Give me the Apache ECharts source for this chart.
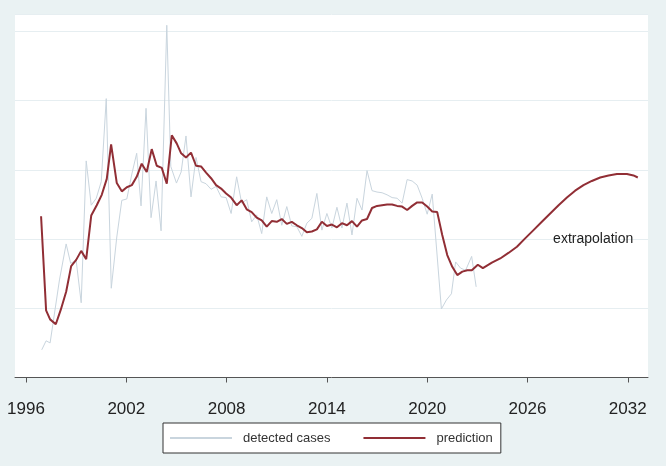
<!DOCTYPE html>
<html>
<head>
<meta charset="utf-8">
<script src="https://cdn.jsdelivr.net/npm/echarts@6/dist/echarts.min.js"></script>
<style>
  html, body { margin: 0; padding: 0; background: #eaf2f3; }
  #chart { width: 666px; height: 466px; }
</style>
</head>
<body>
<div id="chart"></div>
<script>
// values (y in grid-line units)
var detYears = [1996.94, 1997.2, 1997.44, 1997.6, 1998.0, 1998.4, 1998.67, 1999.0, 1999.3, 1999.6,
  1999.9, 2000.2, 2000.5, 2000.8, 2001.1, 2001.43, 2001.73, 2002.03, 2002.33, 2002.62,
  2002.88, 2003.18, 2003.48, 2003.78, 2004.08, 2004.42, 2004.66, 2005.0, 2005.28, 2005.57,
  2005.87, 2006.17, 2006.47, 2006.77, 2007.07, 2007.37, 2007.67, 2007.97, 2008.27, 2008.6,
  2008.9, 2009.2, 2009.5, 2009.8, 2010.1, 2010.4, 2010.7, 2011.0, 2011.3, 2011.6,
  2011.9, 2012.2, 2012.5, 2012.8, 2013.1, 2013.4, 2013.7, 2014.0, 2014.3, 2014.6,
  2014.9, 2015.2, 2015.5, 2015.8, 2016.1, 2016.4, 2016.7, 2017.0, 2017.3, 2017.6,
  2017.9, 2018.2, 2018.5, 2018.8, 2019.1, 2019.4, 2019.7, 2020.0, 2020.3, 2020.85,
  2021.15, 2021.45, 2021.7, 2022.0, 2022.3, 2022.66, 2022.93];
var detValues = [0.40, 0.53, 0.50, 0.76, 1.41, 1.93, 1.65, 1.69, 1.08, 3.13,
  2.49, 2.59, 2.83, 4.03, 1.29, 2.03, 2.56, 2.58, 2.94, 3.24,
  2.48, 3.89, 2.31, 2.84, 2.12, 5.09, 3.05, 2.81, 2.97, 3.49,
  2.61, 3.18, 2.83, 2.80, 2.72, 2.76, 2.61, 2.60, 2.37, 2.90,
  2.52, 2.57, 2.25, 2.35, 2.08, 2.61, 2.37, 2.57, 2.20, 2.47,
  2.19, 2.18, 2.04, 2.23, 2.30, 2.66, 2.13, 2.37, 2.16, 2.46,
  2.16, 2.52, 2.06, 2.59, 2.42, 2.99, 2.70, 2.68, 2.67, 2.64,
  2.60, 2.59, 2.52, 2.86, 2.84, 2.78, 2.59, 2.36, 2.65, 0.99,
  1.12, 1.21, 1.67, 1.58, 1.55, 1.75, 1.31];

var predYears = [1996.9, 1997.2, 1997.44, 1997.78, 1998.08, 1998.4, 1998.7, 1999.0, 1999.3, 1999.6,
  1999.9, 2000.23, 2000.53, 2000.83, 2001.09, 2001.43, 2001.73, 2002.03, 2002.33, 2002.62,
  2002.92, 2003.22, 2003.52, 2003.82, 2004.12, 2004.42, 2004.72, 2005.02, 2005.28, 2005.57,
  2005.87, 2006.17, 2006.47, 2006.77, 2007.07, 2007.37, 2007.67, 2007.97, 2008.27, 2008.6,
  2008.9, 2009.2, 2009.5, 2009.8, 2010.1, 2010.4, 2010.7, 2011.0, 2011.3, 2011.6,
  2011.9, 2012.2, 2012.5, 2012.8, 2013.1, 2013.4, 2013.7, 2014.0, 2014.3, 2014.6,
  2014.9, 2015.2, 2015.5, 2015.8, 2016.1, 2016.4, 2016.7, 2017.0, 2017.3, 2017.6,
  2017.9, 2018.2, 2018.5, 2018.8, 2019.1, 2019.4, 2019.7, 2020.0, 2020.3, 2020.6,
  2020.9, 2021.2, 2021.5, 2021.8, 2022.1, 2022.4, 2022.67, 2023.03, 2023.33, 2023.87,
  2024.37, 2024.86, 2025.37, 2025.86, 2026.36, 2026.86, 2027.36, 2027.86, 2028.36, 2028.85,
  2029.35, 2029.85, 2030.35, 2030.85, 2031.35, 2031.95, 2032.34, 2032.6];
var predValues = [2.33, 0.97, 0.84, 0.77, 0.98, 1.24, 1.61, 1.70, 1.83, 1.71,
  2.34, 2.49, 2.64, 2.87, 3.37, 2.81, 2.69, 2.75, 2.78, 2.90,
  3.09, 2.97, 3.30, 3.06, 3.03, 2.80, 3.50, 3.38, 3.24, 3.18,
  3.25, 3.06, 3.05, 2.96, 2.88, 2.78, 2.73, 2.66, 2.60, 2.49,
  2.56, 2.43, 2.39, 2.31, 2.27, 2.18, 2.26, 2.25, 2.29, 2.22,
  2.25, 2.20, 2.16, 2.10, 2.11, 2.14, 2.25, 2.19, 2.21, 2.17,
  2.23, 2.20, 2.26, 2.18, 2.27, 2.29, 2.45, 2.48, 2.49, 2.50,
  2.50, 2.48, 2.47, 2.42, 2.48, 2.53, 2.53, 2.47, 2.40, 2.39,
  2.06, 1.77, 1.60, 1.48, 1.53, 1.55, 1.55, 1.63, 1.58, 1.66,
  1.72, 1.80, 1.89, 2.01, 2.13, 2.25, 2.37, 2.49, 2.60, 2.70,
  2.78, 2.84, 2.89, 2.92, 2.94, 2.94, 2.92, 2.89];

var yearTicks = [1996, 2002, 2008, 2014, 2020, 2026, 2032];
var noteText = 'extrapolation';
var notePos = [2029.93, 2.0];

function pairs(xs, ys) {
  return xs.map(function (x, i) { return [x, ys[i]]; });
}

var font = 'Liberation Sans, Arial, sans-serif';
var myChart = echarts.init(document.getElementById('chart'));
var option = {
  backgroundColor: '#eaf2f3',
  animation: false,
  grid: {
    left: 15, right: 18, top: 14, bottom: 88.5,
    show: true, backgroundColor: '#ffffff', borderWidth: 0
  },
  legend: {
    data: ['detected cases', 'prediction'],
    left: 163, top: 423,
    padding: [8, 8, 8, 7],
    icon: 'rect',
    itemWidth: 62, itemHeight: 2, itemGap: 33,
    backgroundColor: '#ffffff',
    borderColor: '#333333', borderWidth: 1,
    textStyle: { fontFamily: font, fontSize: 13, color: '#333', padding: [0, 0, 0, 6], lineHeight: 14 }
  },
  xAxis: {
    type: 'value',
    min: 1995.34, max: 2033.21,
    offset: 12,
    axisLine: { lineStyle: { color: '#555', width: 1 } },
    axisTick: { show: true, customValues: yearTicks, length: 5, lineStyle: { color: '#555' } },
    axisLabel: {
      customValues: yearTicks,
      formatter: function (v) { return String(v); },
      fontFamily: font, fontSize: 17, color: '#222', margin: 11
    },
    splitLine: { show: false }
  },
  yAxis: {
    type: 'value',
    min: 0, max: 5.253, interval: 1,
    axisLine: { show: false },
    axisTick: { show: false },
    axisLabel: { show: false },
    splitLine: { lineStyle: { color: '#e6eef1', width: 1 } }
  },
  series: [
    {
      name: 'detected cases',
      type: 'line',
      symbol: 'none',
      color: '#c9d5de',
      lineStyle: { width: 1, color: '#c9d5de' },
      data: pairs(detYears, detValues)
    },
    {
      name: 'prediction',
      type: 'line',
      symbol: 'none',
      color: '#912e35',
      lineStyle: { width: 2, color: '#912e35' },
      data: pairs(predYears, predValues),
      markPoint: {
        silent: true,
        symbolSize: 0,
        itemStyle: { color: 'transparent' },
        label: { show: true, position: 'inside', formatter: noteText, fontFamily: font, fontSize: 14, color: '#222' },
        data: [{ coord: notePos }]
      }
    }
  ]
};
myChart.setOption(option);
</script>
</body>
</html>
